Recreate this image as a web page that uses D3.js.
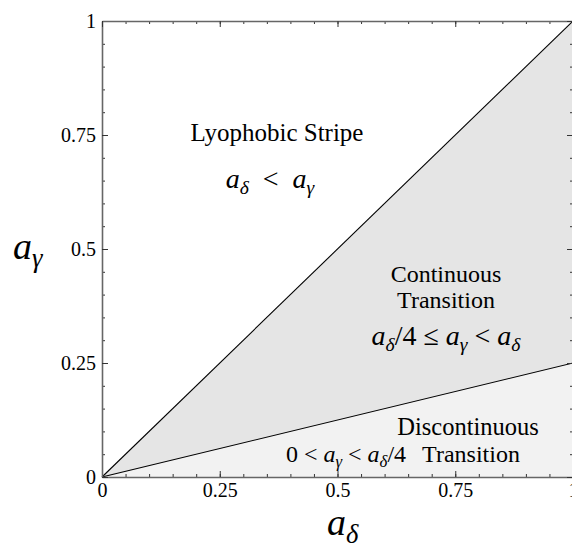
<!DOCTYPE html>
<html>
<head>
<meta charset="utf-8">
<script src="https://cdn.jsdelivr.net/npm/d3@7"></script>
<style>
  body { margin: 0; background: #fff; }
  svg { display: block; }
</style>
</head>
<body>
<svg id="chart" width="572" height="543"></svg>
<script>
// boundaries of the phase diagram: a_gamma = slope * a_delta
var boundaryX = [0, 1];
var upperSlope = 1;     // a_gamma = a_delta
var lowerSlope = 0.25;  // a_gamma = a_delta / 4
var majorTicks = [0, 0.25, 0.5, 0.75, 1];
var minorTicks = d3.range(0, 1.0001, 0.05);

var SERIF = "Liberation Serif";
var svg = d3.select("#chart");
var x = d3.scaleLinear().domain([0, 1]).range([102, 573]);
var y = d3.scaleLinear().domain([0, 1]).range([477, 21]);

var upperLine = boundaryX.map(function (d) { return [d, upperSlope * d]; });
var lowerLine = boundaryX.map(function (d) { return [d, lowerSlope * d]; });

var area = d3.area()
  .x(function (d) { return x(d[0]); })
  .y0(function (d) { return y(d[1]); })
  .y1(function (d) { return y(d[2]); });

// continuous transition region (between the two lines)
svg.append("path")
  .datum(boundaryX.map(function (d) { return [d, lowerSlope * d, upperSlope * d]; }))
  .attr("fill", "#e5e5e5")
  .attr("d", area);

// discontinuous region (below lower line)
svg.append("path")
  .datum(boundaryX.map(function (d) { return [d, 0, lowerSlope * d]; }))
  .attr("fill", "#f2f2f2")
  .attr("d", area);

var line = d3.line()
  .x(function (d) { return x(d[0]); })
  .y(function (d) { return y(d[1]); });

[upperLine, lowerLine].forEach(function (pts) {
  svg.append("path")
    .datum(pts)
    .attr("fill", "none")
    .attr("stroke", "#000")
    .attr("stroke-width", 1.1)
    .attr("d", line);
});

// frame with inward ticks
function frame(axisFn, scale, size, tf, transform) {
  var g = svg.append("g")
    .attr("transform", transform)
    .call(axisFn(scale).tickValues(minorTicks).tickSizeInner(-size.minor).tickSizeOuter(0).tickFormat(""));
  g.select(".domain").remove();
  g.selectAll("line").attr("stroke", "#333");
  var g2 = svg.append("g")
    .attr("transform", transform)
    .call(axisFn(scale).tickValues(majorTicks).tickSizeInner(-size.major).tickSizeOuter(0).tickPadding(tf.pad).tickFormat(tf.fmt));
  g2.select(".domain").attr("stroke", "#666").attr("stroke-width", 1.6);
  g2.selectAll("line").attr("stroke", "#333");
  g2.selectAll("text")
    .style("font-family", SERIF)
    .style("font-size", "20px")
    .attr("fill", "#000");
  return g2;
}

var sz = { minor: 3, major: 6 };
var fmt = function (d) { return String(d); };
frame(d3.axisBottom, x, sz, { pad: 6, fmt: fmt }, "translate(0," + y(0) + ")");
frame(d3.axisLeft, y, sz, { pad: 6, fmt: fmt }, "translate(" + x(0) + ",0)");
frame(d3.axisTop, x, sz, { pad: 0, fmt: "" }, "translate(0," + y(1) + ")");
frame(d3.axisRight, y, sz, { pad: 0, fmt: "" }, "translate(" + x(1) + ",0)");

// math text helper: parts [text, italic?, sub?, backFromSub?]
function mathText(px, py, size, parts, anchor) {
  var t = svg.append("text")
    .attr("x", px).attr("y", py)
    .attr("text-anchor", anchor || "middle")
    .style("font-family", SERIF)
    .style("font-size", size + "px")
    .attr("fill", "#000");
  parts.forEach(function (p) {
    var s = t.append("tspan").text(p[0]);
    if (p[1]) s.style("font-style", "italic");
    if (p[2]) s.style("font-size", (size * 0.7) + "px").attr("dy", size * 0.22);
    if (p[3]) s.attr("dy", -size * 0.22);
  });
  return t;
}

// axis titles
mathText(13, 259, 38, [["a", true], ["\u03b3", true, true]], "start");
mathText(327, 535, 38, [["a", true], ["\u03b4", true, true]], "start");

// region labels
function label(px, py, txt, size) {
  svg.append("text")
    .attr("x", px).attr("y", py)
    .attr("text-anchor", "middle")
    .style("font-family", SERIF)
    .style("font-size", (size || 24) + "px")
    .attr("fill", "#000")
    .text(txt);
}
label(277, 141, "Lyophobic Stripe", 25);
mathText(270, 188, 28, [["a", true], ["\u03b4", true, true], ["\u2002<\u2002", false, false, true], ["a", true], ["\u03b3", true, true]]);

label(446, 282, "Continuous");
label(446, 308, "Transition");
mathText(446, 345, 28, [["a", true], ["\u03b4", true, true], ["/4 \u2264 ", false, false, true], ["a", true], ["\u03b3", true, true], [" < ", false, false, true], ["a", true], ["\u03b4", true, true]]);

label(468, 435, "Discontinuous", 24.5);
label(471, 462, "Transition");
mathText(346, 462, 24, [["0 < ", false], ["a", true], ["\u03b3", true, true], [" < ", false, false, true], ["a", true], ["\u03b4", true, true], ["/4", false, false, true]]);
</script>
</body>
</html>
